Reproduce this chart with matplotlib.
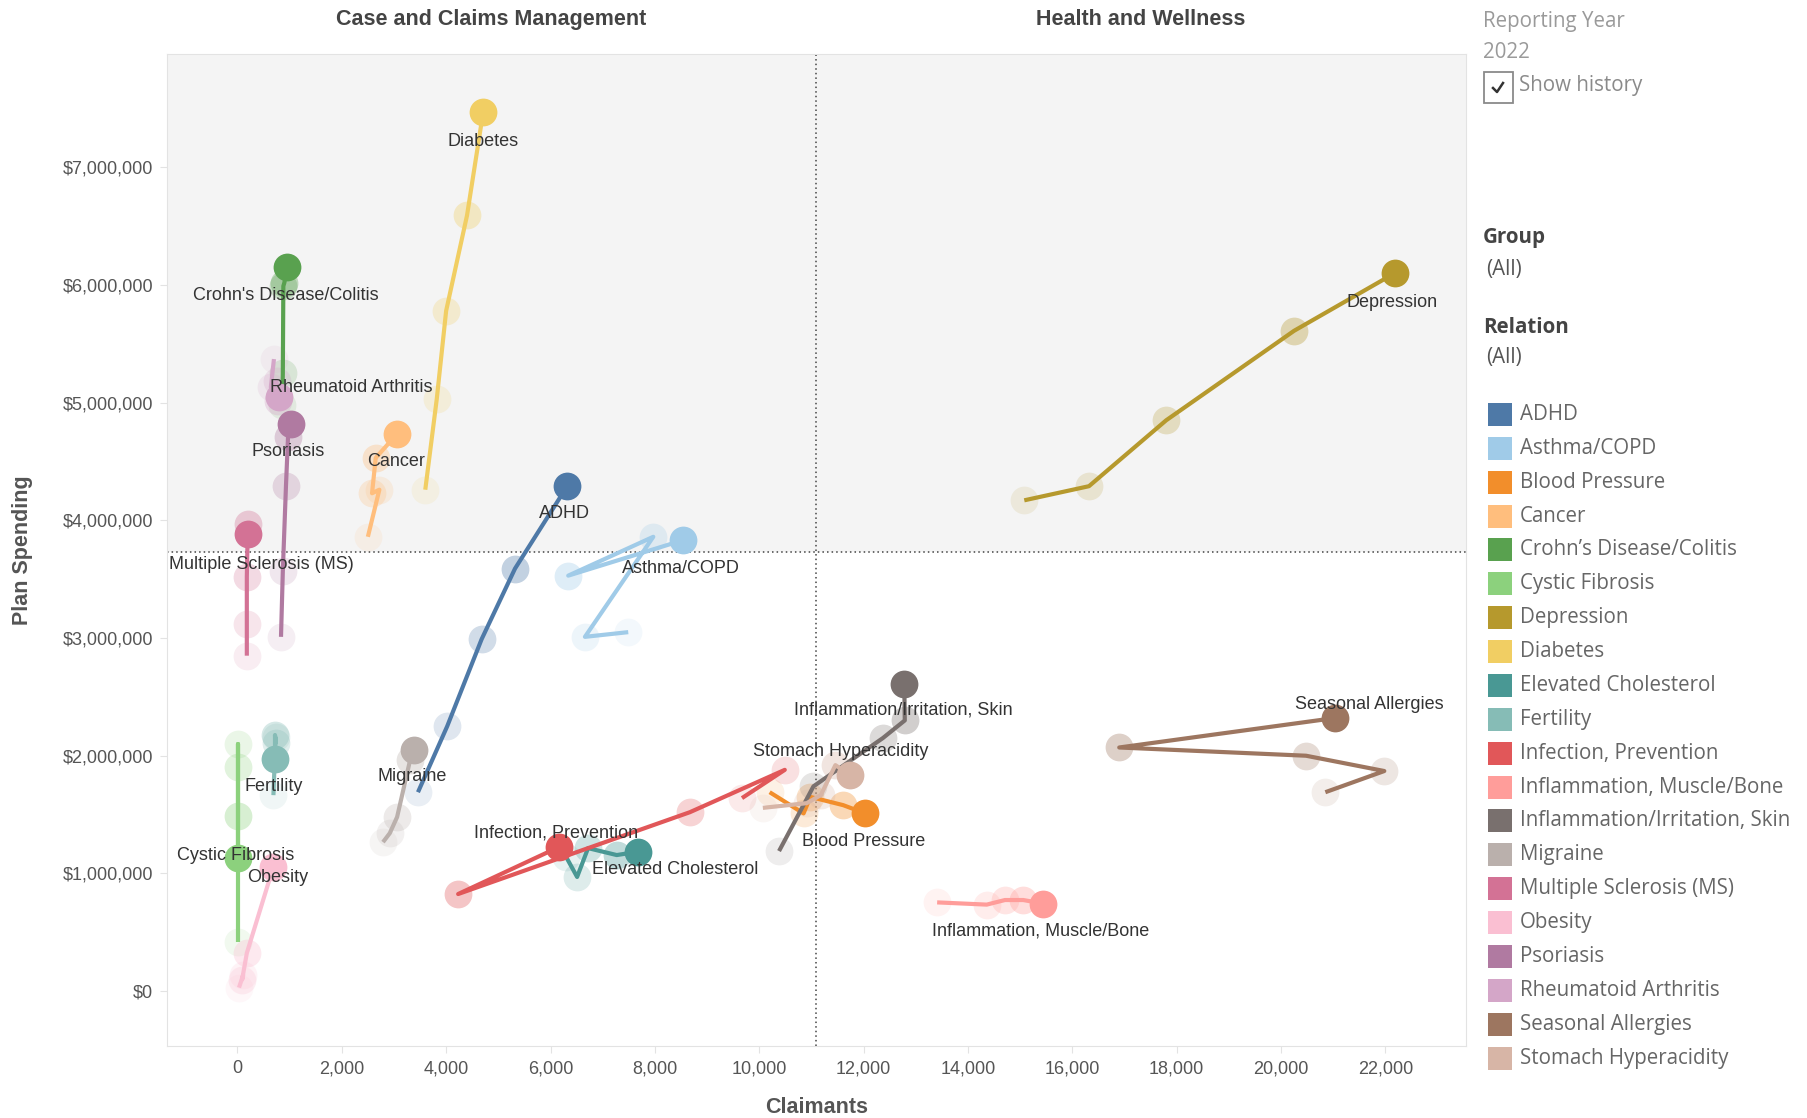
import matplotlib
matplotlib.use("Agg")
import matplotlib.pyplot as plt
from matplotlib.patches import Rectangle
from matplotlib.lines import Line2D
from matplotlib.ticker import FuncFormatter
import matplotlib.transforms as mtransforms

###
# Data: five reporting years per condition, oldest first, latest (2022) last.
###
conditions = ["ADHD", "Asthma/COPD", "Blood Pressure", "Cancer",
              "Crohn's Disease/Colitis", "Cystic Fibrosis", "Depression",
              "Diabetes", "Elevated Cholesterol", "Fertility",
              "Infection, Prevention", "Inflammation, Muscle/Bone",
              "Inflammation/Irritation, Skin", "Migraine",
              "Multiple Sclerosis (MS)", "Obesity", "Psoriasis",
              "Rheumatoid Arthritis", "Seasonal Allergies",
              "Stomach Hyperacidity"]

legend_names = [c.replace("Crohn's", "Crohn\u2019s") for c in conditions]

colors = ["#4e79a7", "#a0cbe8", "#f28e2b", "#ffbe7d", "#59a14f", "#8cd17d",
          "#b6992d", "#f1ce63", "#499894", "#86bcb6", "#e15759", "#ff9d9a",
          "#79706e", "#bab0ac", "#d37295", "#fabfd2", "#b07aa1", "#d4a6c8",
          "#9d7660", "#d7b5a6"]

claimants = {
    "ADHD": [3460, 4020, 4680, 5320, 6320],
    "Asthma/COPD": [7490, 6660, 7970, 6340, 8530],
    "Blood Pressure": [10200, 10850, 10980, 11610, 12030],
    "Cancer": [2500, 2720, 2580, 2650, 3060],
    "Crohn's Disease/Colitis": [860, 870, 880, 900, 950],
    "Cystic Fibrosis": [10, 10, 10, 10, 10],
    "Depression": [15080, 16320, 17800, 20250, 22180],
    "Diabetes": [3600, 3820, 4000, 4400, 4710],
    "Elevated Cholesterol": [6300, 6510, 6720, 7270, 7680],
    "Fertility": [690, 730, 730, 720, 720],
    "Infection, Prevention": [9670, 10490, 8670, 4230, 6160],
    "Inflammation, Muscle/Bone": [13410, 14360, 14710, 15060, 15440],
    "Inflammation/Irritation, Skin": [10380, 11040, 12370, 12790, 12780],
    "Migraine": [2790, 2920, 3060, 3310, 3380],
    "Multiple Sclerosis (MS)": [180, 180, 180, 200, 200],
    "Obesity": [30, 110, 90, 180, 690],
    "Psoriasis": [835, 870, 930, 970, 1030],
    "Rheumatoid Arthritis": [700, 640, 750, 770, 800],
    "Seasonal Allergies": [20850, 21980, 20480, 16900, 21030],
    "Stomach Hyperacidity": [10070, 10910, 11180, 11460, 11740],
}

# plan spending in millions of dollars
spending = {
    "ADHD": [1.69, 2.25, 2.99, 3.59, 4.29],
    "Asthma/COPD": [3.05, 3.01, 3.86, 3.53, 3.83],
    "Blood Pressure": [1.69, 1.51, 1.65, 1.58, 1.51],
    "Cancer": [3.86, 4.26, 4.23, 4.53, 4.735],
    "Crohn's Disease/Colitis": [4.98, 5.25, 5.99, 6.02, 6.15],
    "Cystic Fibrosis": [0.42, 2.10, 1.90, 1.49, 1.13],
    "Depression": [4.17, 4.29, 4.85, 5.61, 6.10],
    "Diabetes": [4.26, 5.03, 5.78, 6.59, 7.47],
    "Elevated Cholesterol": [1.14, 0.97, 1.215, 1.156, 1.185],
    "Fertility": [1.665, 2.155, 2.106, 2.176, 1.972],
    "Infection, Prevention": [1.64, 1.88, 1.52, 0.825, 1.224],
    "Inflammation, Muscle/Bone": [0.754, 0.735, 0.774, 0.774, 0.744],
    "Inflammation/Irritation, Skin": [1.19, 1.74, 2.15, 2.30, 2.61],
    "Migraine": [1.266, 1.342, 1.479, 1.964, 2.049],
    "Multiple Sclerosis (MS)": [2.85, 3.12, 3.52, 3.97, 3.885],
    "Obesity": [0.03, 0.137, 0.098, 0.323, 1.058],
    "Psoriasis": [3.01, 3.57, 4.29, 4.71, 4.82],
    "Rheumatoid Arthritis": [5.37, 5.13, 5.18, 5.01, 5.05],
    "Seasonal Allergies": [1.69, 1.87, 2.00, 2.07, 2.32],
    "Stomach Hyperacidity": [1.557, 1.597, 1.665, 1.92, 1.836],
}

avg_claimants = 11090
avg_spending = 3.73e6
x_ticks = list(range(0, 22001, 2000))
y_ticks = [i * 1e6 for i in range(0, 8)]

###
# Label offsets (points) from the latest mark, chosen to look like Tableau's.
###
label_offset = {
    "Diabetes": (0, -21), "Crohn's Disease/Colitis": (-1, -20),
    "Rheumatoid Arthritis": (52, 7), "Psoriasis": (-2, -20),
    "Cancer": (-1, -20), "ADHD": (-2, -20),
    "Multiple Sclerosis (MS)": (10, -22), "Asthma/COPD": (-1, -20),
    "Fertility": (-1, -20), "Cystic Fibrosis": (-2, 2),
    "Obesity": (3, -8), "Migraine": (-1, -19),
    "Infection, Prevention": (-2, 10), "Elevated Cholesterol": (27, -13),
    "Stomach Hyperacidity": (-7, 17),
    "Inflammation/Irritation, Skin": (-1, -19),
    "Blood Pressure": (-1, -20), "Inflammation, Muscle/Bone": (-2, -20),
    "Seasonal Allergies": (25, 10), "Depression": (-2, -21),
}
history_alpha = [0.12, 0.18, 0.26, 0.34]

chart_font = "Liberation Sans"
side_font = "Open Sans"
side_size = 14.8

fig = plt.figure(figsize=(18.07, 11.18), dpi=100)
ax = fig.add_axes([0.0925, 0.0640, 0.7188, 0.8875])
xmin, xmax = -1347, 23546
ymin, ymax = -0.47e6, 7.96e6
ax.set_xlim(xmin, xmax)
ax.set_ylim(ymin, ymax)

# upper half shading and average reference lines
ax.axhspan(avg_spending, ymax, color="#f4f4f4", zorder=0, lw=0)
ax.axvline(avg_claimants, color="#444444", lw=1.1, ls=(0, (1, 2)), zorder=1)
ax.axhline(avg_spending, color="#444444", lw=1.1, ls=(0, (1, 2)), zorder=1)

for name, col in zip(conditions, colors):
    xs = claimants[name]
    ys = [v * 1e6 for v in spending[name]]
    for i, a in enumerate(history_alpha):
        ax.scatter(xs[i], ys[i], s=400, color=col, alpha=a, lw=0, zorder=2)
    ax.plot(xs, ys, color=col, lw=3, solid_capstyle="butt",
            solid_joinstyle="round", zorder=3)
for name, col in zip(conditions, colors):
    ax.scatter(claimants[name][-1], spending[name][-1] * 1e6, s=400,
               color=col, lw=0, zorder=4)
for name in conditions:
    dx, dy = label_offset[name]
    ax.annotate(name, (claimants[name][-1], spending[name][-1] * 1e6),
                xytext=(dx, dy), textcoords="offset points", ha="center",
                va="center", fontsize=13, color="#333333",
                family=chart_font, zorder=5)

# axes styling
for sp in ax.spines.values():
    sp.set_color("#e3e3e3")
ax.set_xticks(x_ticks)
ax.set_yticks(y_ticks)
ax.xaxis.set_major_formatter(FuncFormatter(lambda v, p: "{:,.0f}".format(v)))
ax.yaxis.set_major_formatter(FuncFormatter(lambda v, p: "${:,.0f}".format(v)))
ax.tick_params(length=5, color="#e3e3e3", labelcolor="#555555",
               labelsize=13, pad=5)
for lab in ax.get_xticklabels() + ax.get_yticklabels():
    lab.set_family(chart_font)
ax.set_xlabel("Claimants", fontsize=15.5, fontweight="bold", color="#555555",
              family=chart_font, labelpad=14)
ax.set_ylabel("Plan Spending", fontsize=15.5, fontweight="bold",
              color="#555555", family=chart_font, labelpad=21)

# column headers over the two halves split by the reference line
trans = mtransforms.blended_transform_factory(ax.transData, ax.transAxes)
ax.text((xmin + avg_claimants) / 2, 1.035, "Case and Claims Management",
        transform=trans, ha="center", va="center", fontsize=15.5,
        fontweight="bold", color="#444444", family=chart_font)
ax.text((avg_claimants + xmax) / 2, 1.035, "Health and Wellness",
        transform=trans, ha="center", va="center", fontsize=15.5,
        fontweight="bold", color="#444444", family=chart_font)


###
# Right hand side panel: filters and colour legend (pixel positions).
###
def fx(px):
    return px / 1807.0


def fy(py):
    return 1 - py / 1118.0


fig.text(fx(1483), fy(21), "Reporting Year", fontsize=side_size,
         color="#9a9a9a", family=side_font, va="center")
fig.text(fx(1483), fy(52), "2022", fontsize=side_size, color="#9a9a9a",
         family=side_font, va="center")
fig.add_artist(Rectangle((fx(1484), fy(103)), fx(29), 31 / 1118.0,
                         transform=fig.transFigure, fill=False,
                         ec="#8a8a8a", lw=1.3))
fig.add_artist(Line2D([fx(1493), fx(1497), fx(1503)],
                      [fy(88), fy(92), fy(83)], transform=fig.transFigure,
                      color="#333333", lw=1.8))
fig.text(fx(1519), fy(86), "Show history", fontsize=side_size,
         color="#8a8a8a", family=side_font, va="center")
fig.text(fx(1483), fy(238), "Group", fontsize=side_size, color="#444444",
         family=side_font, fontweight="bold", va="center")
fig.text(fx(1486), fy(269), "(All)", fontsize=side_size, color="#555555",
         family=side_font, va="center")
fig.text(fx(1483), fy(328), "Relation", fontsize=side_size, color="#444444",
         family=side_font, fontweight="bold", va="center")
fig.text(fx(1486), fy(358), "(All)", fontsize=side_size, color="#555555",
         family=side_font, va="center")

for i, (name, col) in enumerate(zip(legend_names, colors)):
    cy = 414.5 + i * 33.87
    fig.add_artist(Rectangle((fx(1488), fy(cy + 11.5)), fx(24), 23 / 1118.0,
                             transform=fig.transFigure, color=col, lw=0))
    fig.text(fx(1520), fy(cy), name, fontsize=side_size, color="#666666",
             family=side_font, va="center")

plt.savefig("out.png", dpi=100)
